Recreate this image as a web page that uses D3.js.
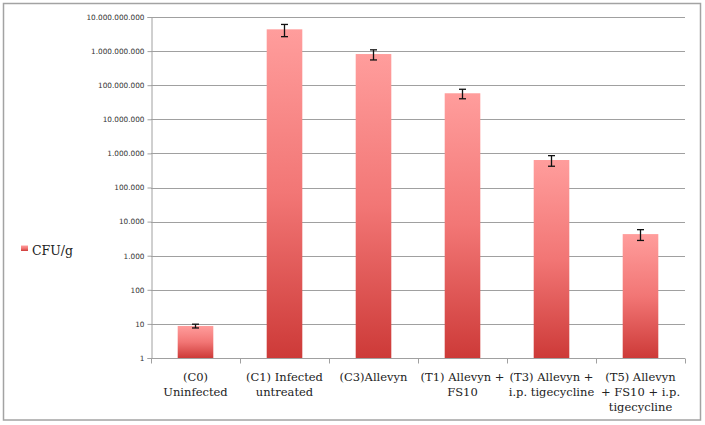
<!DOCTYPE html>
<html>
<head>
<meta charset="utf-8">
<script src="https://cdn.jsdelivr.net/npm/d3@7"></script>
<style>
  body { margin: 0; background: #fff; }
  .grid line { stroke: #a0a0a0; stroke-width: 1; }
  .yaxis text { font-family: "DejaVu Sans", sans-serif; font-size: 7.3px; fill: #333; }
  .xlabel { font-family: "DejaVu Serif", serif; font-size: 11.5px; fill: #222; }
  .legend text { font-family: "DejaVu Serif", serif; font-size: 12.5px; fill: #222; }
</style>
</head>
<body>
<script>
const width = 705,
  height = 425;

// categories, each split into the lines shown under the axis
const categories = ['C0', 'C1', 'C3', 'T1', 'T3', 'T5'];
const categoryLabels = [
  ['(C0)', 'Uninfected'],
  ['(C1) Infected', 'untreated'],
  ['(C3)Allevyn'],
  ['(T1) Allevyn +', 'FS10'],
  ['(T3) Allevyn +', 'i.p. tigecycline'],
  ['(T5)  Allevyn', '+ FS10 + i.p.', 'tigecycline']
];
// CFU/g means and error (+/-)
const cfuValues = [8.7, 4.35e9, 8.2e8, 5.8e7, 6.4e5, 4.3e3];
const cfuErrors = [1.1, 1.7e9, 2.7e8, 1.8e7, 2.2e5, 1.5e3];
const yTicks = [1, 10, 100, 1e3, 1e4, 1e5, 1e6, 1e7, 1e8, 1e9, 1e10];

const margin = { top: 17, left: 151, right: 20, bottom: 67 };

const svg = d3
  .select('body')
  .append('svg')
  .attr('width', width)
  .attr('height', height);

// outer frame
svg
  .append('rect')
  .attr('x', 3.5)
  .attr('y', 3.5)
  .attr('width', 697)
  .attr('height', 416.5)
  .attr('fill', 'none')
  .attr('stroke', '#a3a3a3')
  .attr('stroke-width', 1.5);

const defs = svg.append('defs');
const grad = defs
  .append('linearGradient')
  .attr('id', 'barGrad')
  .attr('x1', 0)
  .attr('y1', 0)
  .attr('x2', 0)
  .attr('y2', 1);
grad.append('stop').attr('offset', '0%').attr('stop-color', '#ff9d9c');
grad.append('stop').attr('offset', '50%').attr('stop-color', '#f27675');
grad.append('stop').attr('offset', '100%').attr('stop-color', '#cd3a38');

const x = d3
  .scaleBand()
  .domain(categories)
  .range([margin.left, width - margin.right])
  .paddingInner(0.6)
  .paddingOuter(0.3);

const y = d3
  .scaleLog()
  .domain([1, 1e10])
  .range([height - margin.bottom, margin.top]);

// gridlines
svg
  .append('g')
  .attr('class', 'grid')
  .selectAll('line')
  .data(yTicks.slice(1))
  .join('line')
  .attr('x1', margin.left)
  .attr('x2', width - margin.right)
  .attr('y1', d => Math.round(y(d)) + 0.5)
  .attr('y2', d => Math.round(y(d)) + 0.5);

// y axis, dot as thousands separator
const fmt = d3.formatLocale({ decimal: ',', thousands: '.', grouping: [3], currency: ['', ''] }).format(',');
const yAxis = svg
  .append('g')
  .attr('class', 'yaxis')
  .attr('transform', `translate(${margin.left + 0.5},0)`)
  .call(d3.axisLeft(y).tickValues(yTicks).tickFormat(d => fmt(d)).tickSize(4).tickPadding(3));
yAxis.selectAll('line, path').attr('stroke', '#a0a0a0');

// x axis baseline + ticks at category boundaries
const base = Math.round(y(1)) + 0.5;
const step = x.step();
const xg = svg.append('g').attr('class', 'xaxis');
xg.append('line')
  .attr('x1', margin.left)
  .attr('x2', width - margin.right)
  .attr('y1', base)
  .attr('y2', base)
  .attr('stroke', '#a0a0a0');
xg.selectAll('line.tick')
  .data(d3.range(categories.length + 1))
  .join('line')
  .attr('class', 'tick')
  .attr('x1', i => Math.round(margin.left + i * (width - margin.right - margin.left) / categories.length) + 0.5)
  .attr('x2', i => Math.round(margin.left + i * (width - margin.right - margin.left) / categories.length) + 0.5)
  .attr('y1', base)
  .attr('y2', base + 5)
  .attr('stroke', '#a0a0a0');

// bars
svg
  .append('g')
  .selectAll('rect')
  .data(cfuValues)
  .join('rect')
  .attr('x', (d, i) => x(categories[i]))
  .attr('y', d => y(d))
  .attr('width', x.bandwidth())
  .attr('height', d => y(1) - y(d))
  .attr('fill', 'url(#barGrad)');

// error bars
const eb = svg
  .append('g')
  .attr('stroke', '#111')
  .attr('stroke-width', 1.3)
  .selectAll('g')
  .data(cfuValues)
  .join('g');
const cx = (d, i) => x(categories[i]) + x.bandwidth() / 2;
eb.append('line')
  .attr('x1', cx)
  .attr('x2', cx)
  .attr('y1', (d, i) => y(d + cfuErrors[i]))
  .attr('y2', (d, i) => y(d - cfuErrors[i]));
eb.append('line')
  .attr('x1', (d, i) => cx(d, i) - 3.5)
  .attr('x2', (d, i) => cx(d, i) + 3.5)
  .attr('y1', (d, i) => y(d + cfuErrors[i]))
  .attr('y2', (d, i) => y(d + cfuErrors[i]));
eb.append('line')
  .attr('x1', (d, i) => cx(d, i) - 3.5)
  .attr('x2', (d, i) => cx(d, i) + 3.5)
  .attr('y1', (d, i) => y(d - cfuErrors[i]))
  .attr('y2', (d, i) => y(d - cfuErrors[i]));

// category labels
svg
  .append('g')
  .selectAll('text')
  .data(categoryLabels)
  .join('text')
  .attr('class', 'xlabel')
  .attr('text-anchor', 'middle')
  .attr('x', (d, i) => x(categories[i]) + x.bandwidth() / 2)
  .attr('y', base + 22)
  .selectAll('tspan')
  .data(d => d)
  .join('tspan')
  .attr('x', function () { return this.parentNode.getAttribute('x'); })
  .attr('dy', (d, i) => (i === 0 ? 0 : 15))
  .text(d => d);

// legend
const legend = svg.append('g').attr('class', 'legend');
legend
  .append('rect')
  .attr('x', 21)
  .attr('y', 245.5)
  .attr('width', 7)
  .attr('height', 5.5)
  .attr('fill', 'url(#barGrad)');
legend.append('text').attr('x', 32).attr('y', 254.5).text('CFU/g');
</script>
</body>
</html>
